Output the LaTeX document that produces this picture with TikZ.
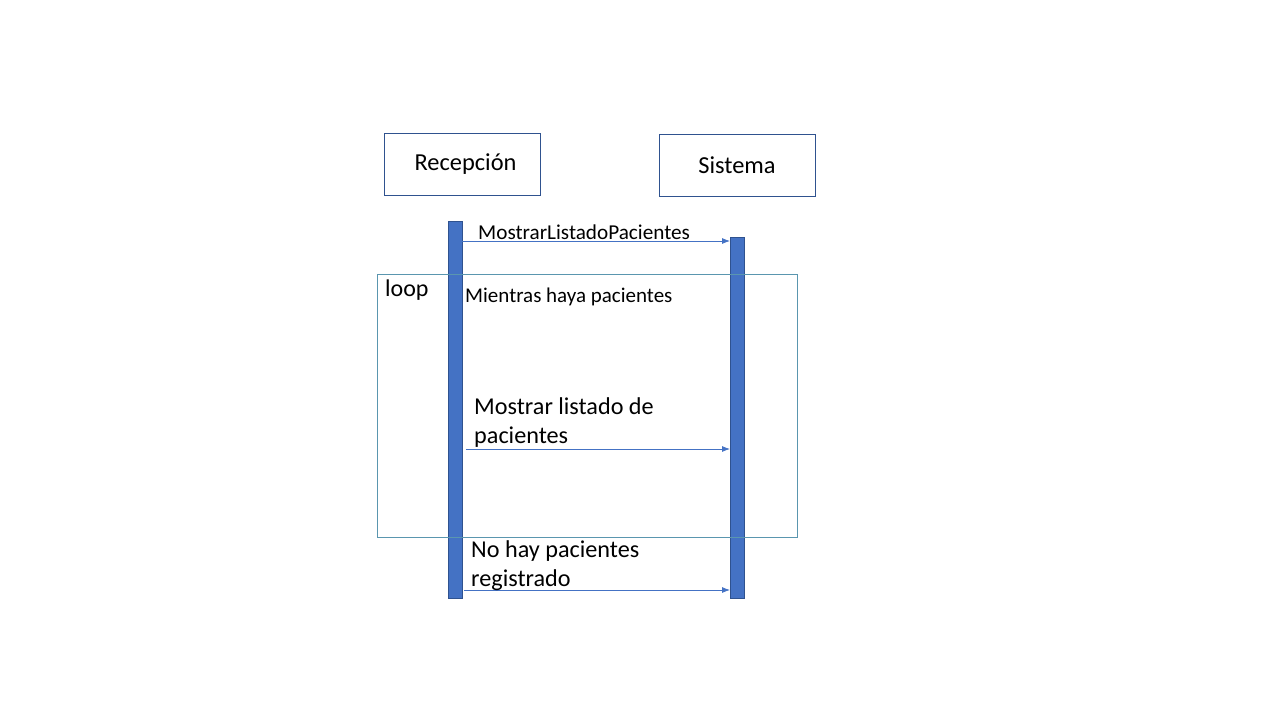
\documentclass[tikz,border=0pt]{standalone}
\usepackage{fontspec}
\setmainfont{Carlito}
\usetikzlibrary{arrows.meta}
\definecolor{barblue}{RGB}{68,114,196}
\definecolor{baredge}{RGB}{47,82,143}
\definecolor{boxedge}{RGB}{47,82,143}
\definecolor{loopedge}{RGB}{90,150,175}
\definecolor{msgblue}{RGB}{68,114,196}
\tikzset{
  lifebox/.style={draw=boxedge, line width=0.8pt, minimum width=156pt, minimum height=62pt, inner sep=0pt, font=\fontsize{24.4}{29}\selectfont},
  actbar/.style={draw=baredge, fill=barblue, line width=0.6pt, minimum width=14pt, inner sep=0pt},
  msg/.style={draw=msgblue, line width=0.8pt, -{Latex[length=8pt,width=6pt]}},
  lbl/.style={anchor=west, inner sep=0pt, align=left},
}
\begin{document}
\begin{tikzpicture}[x=1pt,y=-1pt]
\useasboundingbox (0,0) rectangle (1280,720);
% lifeline heads
\node[lifebox] (rec) at (462,164) {\raisebox{-2pt}{\hspace*{7pt}Recepción}};
\node[lifebox] (sis) at (737,165) {\raisebox{-1pt}{Sistema}};
% activation bars
\node[actbar, minimum height=377pt] (barR) at (455,409.5) {};
\node[actbar, minimum height=361pt] (barS) at (737,417.5) {};
% loop frame
\node[draw=loopedge, line width=0.7pt, minimum width=420pt, minimum height=263pt, inner sep=0pt] (loopf) at (587,405.5) {};
\node[lbl, font=\fontsize{24}{29}\selectfont] (looplbl) at (385,290) {loop};
\node[lbl, font=\fontsize{21}{25}\selectfont] (guard) at (465,297) {Mientras haya pacientes};
% message endpoints
\coordinate (m1s) at (462,241);
\coordinate (m1e) at (730,241);
\coordinate (m2s) at (466,449);
\coordinate (m2e) at (730,449);
\coordinate (m3s) at (464,590);
\coordinate (m3e) at (730,590);
% messages
\draw[msg] (m1s) -- (m1e);
\node[lbl, font=\fontsize{21.2}{25}\selectfont] (m1l) at (478,232) {MostrarListadoPacientes};
\draw[msg] (m2s) -- (m2e);
\node[lbl, font=\fontsize{24.2}{29}\selectfont] (m2l) at (474,422.5) {Mostrar listado de\\pacientes};
\draw[msg] (m3s) -- (m3e);
\node[lbl, font=\fontsize{24.2}{29}\selectfont] (m3l) at (471,565.5) {No hay pacientes\\registrado};
\end{tikzpicture}
\end{document}
